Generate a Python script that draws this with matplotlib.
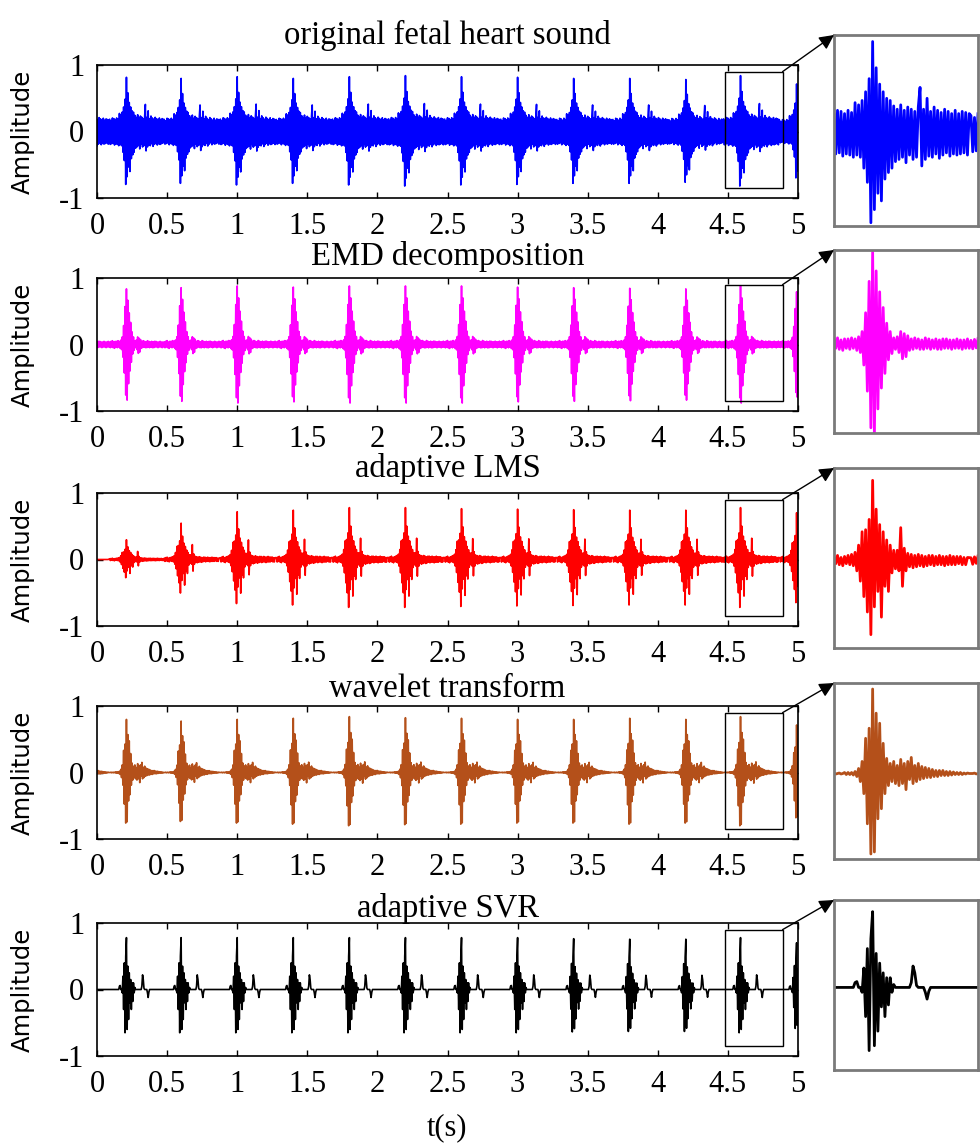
import numpy as np
import matplotlib.pyplot as plt
from matplotlib.patches import ConnectionPatch, Rectangle

# S1 times (one lead beat before t=0 so the trace starts filled)
beat_times = [-0.19, 0.21, 0.60, 1.00, 1.40, 1.80, 2.20, 2.60, 3.00, 3.40, 3.80, 4.20, 4.59, 4.99]

titles = ["original fetal heart sound", "EMD decomposition", "adaptive LMS",
          "wavelet transform", "adaptive SVR"]
colors = ["#0000ff", "#ff00ff", "#ff0000", "#b4501a", "#000000"]

# amplitude of each beat relative to the zoomed beat
orig_scale = [0.95, 0.97, 0.95, 0.98, 0.95, 0.98, 1.0, 0.98, 0.97, 0.95, 0.95, 0.93, 1.0, 0.85]
emd_scale = [0.95, 0.95, 0.97, 1.0, 0.98, 1.0, 1.0, 1.0, 0.98, 0.97, 0.96, 0.95, 1.0, 0.9]
lms_scale = [0.0, 0.38, 0.7, 0.92, 0.95, 1.0, 1.0, 0.98, 0.97, 0.96, 0.95, 0.95, 1.0, 0.9]
wav_scale = [0.95, 0.95, 0.92, 0.95, 0.97, 1.0, 0.98, 0.97, 0.95, 0.95, 0.97, 0.95, 1.0, 0.85]
svr_scale = [1.0, 1.0, 1.0, 1.0, 1.0, 1.0, 1.0, 1.0, 1.0, 0.98, 0.97, 0.97, 1.0, 0.9]

# one beat period, 5 ms per sample, starting 120 ms before S1
orig_beat = [0.19, -0.2, 0.17, -0.19, 0.21, -0.18, 0.2, -0.21, 0.18, -0.19, 0.21, -0.2, 0.19, -0.22,
             0.28, -0.2, 0.26, -0.22,
             0.3, -0.32, 0.38, -0.45, 0.5, -0.82, 0.84, -0.7, 0.6, -0.55, 0.45, -0.62, 0.38, -0.42,
             0.32, -0.36, 0.3, -0.32,
             0.25, -0.26, 0.22, -0.24, 0.26, -0.22, 0.21, -0.27, 0.24, -0.2, 0.22, -0.24, 0.2, -0.22, 0.24,
             0.42, -0.3,
             0.22, -0.24, 0.32, -0.21, 0.2, -0.22, 0.24, -0.19, 0.21, -0.23, 0.19, -0.2, 0.22, -0.18,
             0.2, -0.21, 0.18, -0.19, 0.21, -0.2, 0.18, -0.19, 0.2, -0.18, 0.19, -0.2, 0.18]
emd_beat = [0.04, -0.05, 0.05, -0.04, 0.06, -0.05, 0.04, -0.06, 0.05, -0.04, 0.05, -0.05, 0.06, -0.04,
            0.05, -0.06, 0.07, -0.08, 0.12,
            -0.2, 0.3, -0.45, 0.6, -0.8, 0.88, -0.88, 0.7, -0.62, 0.5, -0.42, 0.35, -0.28, 0.2, -0.15,
            0.12, -0.09,
            0.06, -0.05, 0.07, -0.08, 0.12, -0.14, 0.1, -0.12, 0.08, -0.06, 0.05, -0.05, 0.06, -0.04,
            0.05, -0.05, 0.04, -0.05, 0.06, -0.04, 0.05, -0.05, 0.04, -0.04, 0.05, -0.05, 0.04, -0.05,
            0.05, -0.04, 0.05, -0.04, 0.04, -0.05, 0.04, -0.04, 0.05, -0.04, 0.04, -0.05, 0.04, -0.04,
            0.05, -0.04]
lms_beat = [0.03, -0.04, 0.04, -0.03, 0.05, -0.04, 0.03, -0.05, 0.04, -0.03, 0.05, -0.04, 0.06, -0.05,
            0.08, -0.1, 0.15,
            -0.2, 0.28, -0.35, 0.3, -0.5, 0.4, -0.72, 0.78, -0.45, 0.5, -0.3, 0.35, -0.55, 0.28, -0.25,
            0.2, -0.3, 0.15, -0.12, 0.1,
            -0.08, 0.1, -0.1, 0.32, -0.25, 0.12, -0.1, 0.07, -0.06, 0.06, -0.07, 0.05, -0.06, 0.06,
            -0.05, 0.05, -0.06, 0.04, -0.05, 0.05, -0.04, 0.05, -0.05, 0.04, -0.04, 0.05, -0.04, 0.04,
            -0.05, 0.04, -0.04, 0.05, -0.04, 0.04, -0.04, 0.04, -0.03, 0.04, -0.04, 0.03, -0.04, 0.03]
wav_beat = [0.0, 0.0, 0.005, -0.005, 0.0, 0.005, -0.005, 0.0, 0.01, -0.01, 0.01, -0.01, 0.01, -0.015,
            0.02, -0.03, 0.05, -0.08,
            0.12, -0.2, 0.35, -0.5, 0.45, -0.8, 0.84, -0.78, 0.6, -0.45, 0.5, -0.35, 0.3, -0.2, 0.15,
            -0.12, 0.1, -0.08, 0.12, -0.1, 0.08, -0.12, 0.14, -0.1, 0.1, -0.16, 0.12, -0.06, 0.16,
            -0.1, 0.08, -0.08, 0.1, -0.06, 0.07, -0.05, 0.06, -0.04, 0.05, -0.04, 0.04, -0.03, 0.03,
            -0.03, 0.03, -0.02, 0.03, -0.02, 0.02, -0.02, 0.02, -0.015, 0.015, -0.01, 0.01, -0.01,
            0.01, -0.01, 0.005, -0.005, 0.005, 0.0]
svr_beat = [0.0, 0.0, 0.0, 0.0, 0.0, 0.0, 0.0, 0.0, 0.0, 0.0, 0.0, 0.0, 0.0, 0.0, 0.05, 0.06, 0.0,
            0.0, -0.05, 0.2, -0.3, 0.4, -0.65, 0.5, 0.78, -0.6, 0.35, -0.45, 0.25, -0.2, 0.15, -0.3,
            0.1, -0.18, 0.1, -0.05, 0.03, 0.0, 0.0, 0.0, 0.0, 0.0, 0.0, 0.0, 0.0, 0.0, 0.05, 0.22,
            0.15, 0.02, 0.0, 0.0, 0.0, 0.0, -0.05, -0.12, -0.04, 0.0, 0.0, 0.0, 0.0, 0.0, 0.0, 0.0,
            0.0, 0.0, 0.0, 0.0, 0.0, 0.0, 0.0, 0.0, 0.0, 0.0, 0.0, 0.0, 0.0, 0.0, 0.0, 0.0]

beats = [orig_beat, emd_beat, lms_beat, wav_beat, svr_beat]
scales = [orig_scale, emd_scale, lms_scale, wav_scale, svr_scale]

zoom_t = (4.48, 4.89)
zoom_a = (-0.85, 0.9)
dt = 0.005
lead = 0.12


def build(tpl, scl):
    tpl = np.asarray(tpl)
    off = -lead + dt * np.arange(len(tpl))
    ts, ys = [], []
    for i, (b, s) in enumerate(zip(beat_times, scl)):
        t = b + off
        if i + 1 < len(beat_times):
            keep = t < beat_times[i + 1] - lead
        else:
            keep = np.ones(len(t), bool)
        ts.append(t[keep])
        ys.append(s * tpl[keep])
    return np.concatenate(ts), np.concatenate(ys)


W, H = 980, 1147
main_top = [65, 278, 493, 706, 923]
main_bot = [198, 411, 626, 839, 1056]
ins_top = [35, 250, 468, 683, 900]
ins_bot = [226, 433, 648, 859, 1070]
title_y = [35, 256, 468, 689, 908]

serif = "Liberation Serif"
fig = plt.figure(figsize=(W / 100, H / 100), dpi=100)

for r in range(5):
    ax = fig.add_axes([97 / W, 1 - main_bot[r] / H, (798 - 97) / W, (main_bot[r] - main_top[r]) / H])
    t, y = build(beats[r], scales[r])
    ax.plot(t, y, color=colors[r], lw=1.2)
    ax.set_xlim(0, 5)
    ax.set_ylim(-1, 1)
    ax.set_xticks(np.arange(0, 5.01, 0.5))
    ax.set_xticklabels(["0", "0.5", "1", "1.5", "2", "2.5", "3", "3.5", "4", "4.5", "5"])
    ax.set_yticks([-1, 0, 1])
    ax.set_yticklabels(["-1", "0", "1"])
    ax.tick_params(direction="in", top=True, right=True, length=4, width=1, labelsize=22)
    ax.tick_params(axis="x", pad=10)
    ax.tick_params(axis="y", pad=9)
    for lab in ax.get_xticklabels() + ax.get_yticklabels():
        lab.set_family(serif)
    for sp in ax.spines.values():
        sp.set_linewidth(1.2)
    ax.set_ylabel("Amplitude", fontsize=17.5, family="DejaVu Sans")
    ax.yaxis.set_label_coords(-0.088, 0.5)
    ax.text(0.5, 1 + (main_top[r] - title_y[r]) / (main_bot[r] - main_top[r]), titles[r],
            transform=ax.transAxes, ha="center", va="center", fontsize=23.5, family=serif)
    ax.add_patch(Rectangle((zoom_t[0], zoom_a[0]), zoom_t[1] - zoom_t[0], zoom_a[1] - zoom_a[0],
                           fill=False, ec="black", lw=1.0, zorder=5))

    ins = fig.add_axes([834 / W, 1 - ins_bot[r] / H, 144 / W, (ins_bot[r] - ins_top[r]) / H])
    ins.plot(t, y, color=colors[r], lw=2.0)
    ins.set_xlim(*zoom_t)
    ins.set_ylim(*zoom_a)
    ins.set_xticks([])
    ins.set_yticks([])
    for sp in ins.spines.values():
        sp.set_linewidth(2.0)
        sp.set_color("#7a7a7a")

    con = ConnectionPatch(xyA=(zoom_t[1], zoom_a[1]), coordsA=ax.transData,
                          xyB=(0, 1), coordsB=ins.transAxes,
                          arrowstyle="-|>", mutation_scale=22, color="black", lw=1.0)
    fig.add_artist(con)

fig.text(447 / W, 1 - 1128 / H, "t(s)", ha="center", va="center", fontsize=22, family=serif)

fig.savefig("out.png", dpi=100)
